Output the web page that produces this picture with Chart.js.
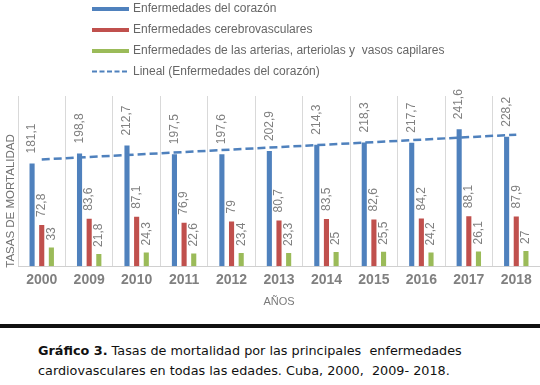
<!DOCTYPE html>
<html><head><meta charset="utf-8">
<script src="https://cdn.jsdelivr.net/npm/chart.js@4"></script>
<style>
html,body{margin:0;padding:0;background:#fff;width:540px;height:385px;overflow:hidden}
#wrap{position:absolute;left:0;top:0;width:540px;height:315px}
#rule{position:absolute;left:0;top:324px;width:540px;height:4px;background:#111}
#cap{position:absolute;left:38px;top:341px;font-family:"DejaVu Sans",Verdana,sans-serif;font-size:12.8px;line-height:20px;color:#111;white-space:pre}
</style></head><body>
<div id="wrap"><canvas id="c"></canvas></div>
<div id="rule"></div>
<div id="cap"><b>Gráfico 3.</b> Tasas de mortalidad por las principales  enfermedades
cardiovasculares en todas las edades. Cuba, 2000,  2009- 2018.</div>
<script>
const years = ['2000','2009','2010','2011','2012','2013','2014','2015','2016','2017','2018'];
const corazon = [181.1,198.8,212.7,197.5,197.6,202.9,214.3,218.3,217.7,241.6,228.2];
const cerebro = [72.8,83.6,87.1,76.9,79,80.7,83.5,82.6,84.2,88.1,87.9];
const arterias = [33,21.8,24.3,22.6,23.4,23.3,25,25.5,24.2,26.1,27];
// trend line (start and end)
const tendencia = [188.2,null,null,null,null,null,null,null,null,null,231.9];
const seriesNames = ['Enfermedades del corazón','Enfermedades cerebrovasculares','Enfermedades de las arterias, arteriolas y  vasos capilares','Lineal (Enfermedades del corazón)'];
const yTitle = 'TASAS DE MORTALIDAD';
const xTitle = 'AÑOS';

const BLUE='#4f81bd', RED='#c0504d', GREEN='#9bbb59';
const FONT='"Liberation Sans", Arial, sans-serif';

const fmt = v => String(v).replace('.', ',');

const customPlugin = {
  id:'custom',
  afterDatasetsDraw(chart){
    const ctx = chart.ctx;
    const gaps=[10,8,7];
    ctx.save();
    ctx.font = '12px '+FONT;
    ctx.fillStyle = '#808080';
    ctx.textAlign='left';
    ctx.textBaseline='middle';
    for(let d=0; d<3; d++){
      const meta = chart.getDatasetMeta(d);
      meta.data.forEach((el,i)=>{
        const v = chart.data.datasets[d].data[i];
        ctx.save();
        ctx.translate(el.x, el.y - gaps[d]);
        ctx.rotate(-Math.PI/2);
        ctx.fillText(fmt(v), 0, 0);
        ctx.restore();
      });
    }
    ctx.restore();
  },
  afterDraw(chart){
    const ctx = chart.ctx;
    ctx.save();
    // legend
    const rows=[9,30,51,71.5];
    ctx.font='12px '+FONT;
    ctx.textBaseline='middle';
    ctx.textAlign='left';
    chart.data.datasets.forEach((ds,i)=>{
      const y=rows[i];
      if(i<3){
        ctx.fillStyle=ds.backgroundColor;
        ctx.fillRect(92,y-2,37,4);
      } else {
        ctx.strokeStyle=ds.borderColor;
        ctx.lineWidth=2;
        ctx.setLineDash([5,2.5]);
        ctx.beginPath(); ctx.moveTo(92,y); ctx.lineTo(129,y); ctx.stroke();
        ctx.setLineDash([]);
      }
      ctx.fillStyle='#666';
      ctx.fillText(ds.label,133,y);
    });
    // y title
    ctx.save();
    ctx.translate(11,201);
    ctx.rotate(-Math.PI/2);
    ctx.textAlign='center';
    ctx.font='11.5px '+FONT;
    ctx.fillStyle='#707070';
    ctx.fillText(yTitle,0,0);
    ctx.restore();
    ctx.restore();
  }
};

new Chart(document.getElementById('c'),{
  type:'bar',
  data:{
    labels:years,
    datasets:[
      {label:seriesNames[0],data:corazon,backgroundColor:BLUE,categoryPercentage:0.61,barPercentage:0.53},
      {label:seriesNames[1],data:cerebro,backgroundColor:RED,categoryPercentage:0.61,barPercentage:0.53},
      {label:seriesNames[2],data:arterias,backgroundColor:GREEN,categoryPercentage:0.61,barPercentage:0.53},
      {type:'line',label:seriesNames[3],data:tendencia,borderColor:BLUE,borderWidth:2.5,borderDash:[8,4],pointRadius:0,spanGaps:true,fill:false,order:-1}
    ]
  },
  options:{
    responsive:true,maintainAspectRatio:false,animation:false,
    layout:{padding:{top:96,left:18,right:0,bottom:4}},
    plugins:{legend:{display:false},tooltip:{enabled:false}},
    scales:{
      x:{
        offset:true,
        grid:{display:true,offset:true,color:'#d9d9d9',drawTicks:false},
        border:{color:'#d0d0d0'},
        ticks:{font:{size:14,family:FONT,weight:'bold',lineHeight:1},color:'#808080',padding:7},
        title:{display:true,text:xTitle,font:{size:11,family:FONT},color:'#7a7a7a',padding:{top:1.5,bottom:2}}
      },
      y:{display:false,min:0,max:300}
    }
  },
  plugins:[customPlugin]
});
</script>
</body></html>
